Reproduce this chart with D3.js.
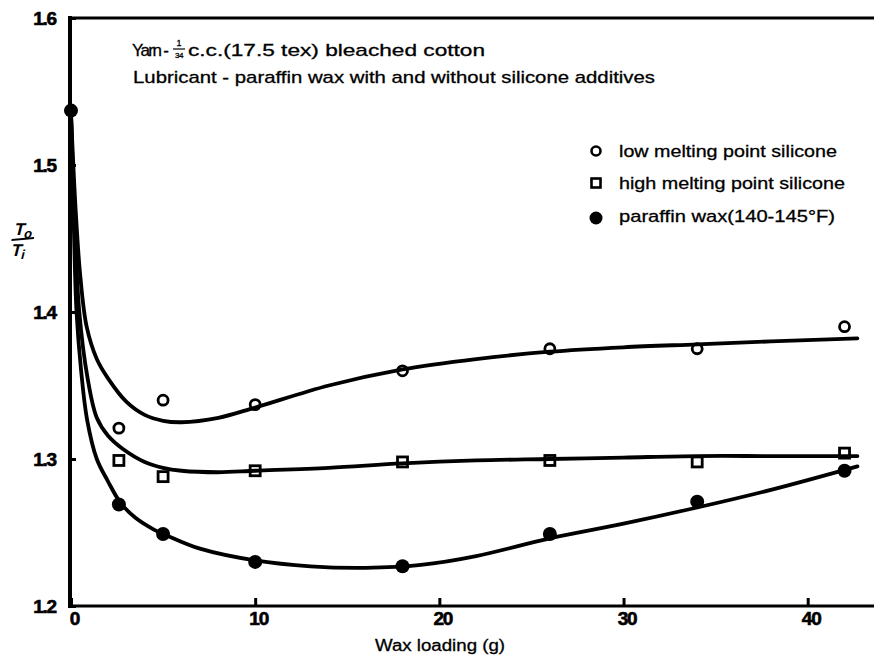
<!DOCTYPE html>
<html>
<head>
<meta charset="utf-8">
<script src="https://cdn.jsdelivr.net/npm/d3@7/dist/d3.min.js"></script>
<style>
  body { margin: 0; background: #fff; }
  svg text { font-family: "Liberation Sans", Arial, Helvetica, sans-serif; fill: #000; }
</style>
</head>
<body>
<div id="chart"></div>
<script>
"use strict"

// measured points
let loadX = [2.6, 5, 10, 18, 26, 34, 42];
let lowMelt = [1.321, 1.340, 1.337, 1.360, 1.375, 1.375, 1.390];
let highMelt = [1.299, 1.288, 1.292, 1.298, 1.299, 1.298, 1.304];
let paraffinX = [0, 2.6, 5, 10, 18, 26, 34, 42];
let paraffin = [1.537, 1.269, 1.249, 1.230, 1.227, 1.249, 1.271, 1.292];

// hand drawn fitted curves
let lowFitX = [0, 0.25, 0.5, 0.85, 1.4, 2, 3, 4, 5, 6, 8, 10, 14, 18, 22, 26, 30, 34, 38, 42.7];
let lowFitY = [1.535, 1.47, 1.425, 1.39, 1.368, 1.355, 1.339, 1.330, 1.326, 1.325, 1.328, 1.335, 1.350, 1.361, 1.368, 1.373, 1.376, 1.378, 1.380, 1.382];
let highFitX = [0, 0.2, 0.45, 0.9, 1.4, 2, 2.8, 4, 5, 6, 8, 10, 14, 18, 22, 26, 30, 34, 38, 42.7];
let highFitY = [1.535, 1.46, 1.40, 1.355, 1.328, 1.316, 1.307, 1.298, 1.294, 1.292, 1.291, 1.292, 1.294, 1.297, 1.299, 1.300, 1.301, 1.302, 1.302, 1.302];
let parFitX = [0, 0.15, 0.3, 0.55, 0.87, 1.4, 2, 2.7, 3.5, 4.5, 5.2, 7, 10, 13, 16, 19, 22, 26, 30, 34, 38, 42.7];
let parFitY = [1.535, 1.46, 1.40, 1.36, 1.327, 1.300, 1.285, 1.270, 1.260, 1.252, 1.248, 1.239, 1.231, 1.227, 1.226, 1.228, 1.234, 1.246, 1.256, 1.267, 1.279, 1.295];

let xTicks = [0, 10, 20, 30, 40];
let yTicks = [1.2, 1.3, 1.4, 1.5, 1.6];

let legendLabels = ["low melting point silicone", "high melting point silicone", "paraffin wax(140-145\u00B0F)"];
let legendWidths = [218, 226, 216];

let drawingWidth = 874;
let drawingHeight = 661;

let x = d3.scaleLinear().domain([0, 43.6]).range([71, 874]);
let y = d3.scaleLinear().domain([1.2, 1.6]).range([606, 18]);

let drawing = d3.select("#chart")
    .append("svg")
    .attr("width", drawingWidth)
    .attr("height", drawingHeight);

drawing.append("rect")
    .attr("width", drawingWidth)
    .attr("height", drawingHeight)
    .attr("fill", "white");

// axes
let yAxis = drawing.append("g")
    .attr("transform", "translate(70,0)")
    .call(d3.axisLeft(y).tickValues(yTicks).tickFormat(d3.format(".1f"))
        .tickSizeInner(-6).tickSizeOuter(0).tickPadding(14));

let xAxis = drawing.append("g")
    .attr("transform", "translate(0," + y(1.2) + ")")
    .call(d3.axisBottom(x).tickValues(xTicks).tickFormat(d3.format("d"))
        .tickSizeInner(-8).tickSizeOuter(0).tickPadding(6));

drawing.selectAll(".domain").remove();
drawing.selectAll(".tick line").attr("stroke", "black").attr("stroke-width", 3);
drawing.selectAll(".tick text")
    .style("font-size", "19px")
    .style("font-weight", "bold")
    .style("letter-spacing", "-1.2px")
    .attr("stroke", "black")
    .attr("stroke-width", 0.6);
xAxis.selectAll(".tick text").attr("dx", 3);

// frame lines
drawing.append("line")
    .attr("x1", 70).attr("x2", 70)
    .attr("y1", y(1.6) - 2).attr("y2", y(1.2) + 2)
    .attr("stroke", "black").attr("stroke-width", 4);
drawing.append("line")
    .attr("x1", 68).attr("x2", drawingWidth)
    .attr("y1", y(1.6)).attr("y2", y(1.6))
    .attr("stroke", "black").attr("stroke-width", 3);
drawing.append("line")
    .attr("x1", 68).attr("x2", drawingWidth)
    .attr("y1", y(1.2)).attr("y2", y(1.2))
    .attr("stroke", "black").attr("stroke-width", 3);

// markers
drawing.selectAll(".lowPt")
    .data(loadX)
    .enter().append("circle")
    .attr("cx", (d) => x(d))
    .attr("cy", (d, i) => y(lowMelt[i]))
    .attr("r", 5)
    .attr("fill", "white")
    .attr("stroke", "black")
    .attr("stroke-width", 2.8);

drawing.selectAll(".highPt")
    .data(loadX)
    .enter().append("rect")
    .attr("x", (d) => x(d) - 5)
    .attr("y", (d, i) => y(highMelt[i]) - 5)
    .attr("width", 10)
    .attr("height", 10)
    .attr("fill", "white")
    .attr("stroke", "black")
    .attr("stroke-width", 2.8);

drawing.selectAll(".parPt")
    .data(paraffinX)
    .enter().append("circle")
    .attr("cx", (d) => x(d))
    .attr("cy", (d, i) => y(paraffin[i]))
    .attr("r", 7)
    .attr("fill", "black");

// fitted curves
let curve = d3.line()
    .x((d) => x(d[0]))
    .y((d) => y(d[1]))
    .curve(d3.curveCatmullRom.alpha(0.5));

let fits = [[lowFitX, lowFitY], [highFitX, highFitY], [parFitX, parFitY]];
fits.forEach(function(f) {
    drawing.append("path")
        .attr("d", curve(d3.zip(f[0], f[1])))
        .attr("fill", "none")
        .attr("stroke", "black")
        .attr("stroke-width", 3.8)
        .attr("stroke-linecap", "round");
});

// title text
let titleSize = 17;
drawing.append("text")
    .attr("x", 132).attr("y", 56)
    .style("font-size", titleSize + "px")
    .style("letter-spacing", "-1.6px")
    .text("Yarn -");
drawing.append("text")
    .attr("x", 179).attr("y", 46)
    .attr("text-anchor", "middle")
    .style("font-size", "9px")
    .text("1");
drawing.append("line")
    .attr("x1", 173).attr("x2", 185)
    .attr("y1", 49).attr("y2", 49)
    .attr("stroke", "black").attr("stroke-width", 1.2);
drawing.append("text")
    .attr("x", 179).attr("y", 58)
    .attr("text-anchor", "middle")
    .style("font-size", "8px")
    .style("letter-spacing", "-0.5px")
    .text("34");
drawing.append("text")
    .attr("x", 188).attr("y", 56)
    .style("font-size", titleSize + "px")
    .attr("textLength", 297).attr("lengthAdjust", "spacingAndGlyphs")
    .text("c.c.(17.5 tex) bleached cotton");
drawing.append("text")
    .attr("x", 133).attr("y", 83)
    .style("font-size", titleSize + "px")
    .attr("textLength", 522).attr("lengthAdjust", "spacingAndGlyphs")
    .text("Lubricant - paraffin wax with and without silicone additives");

drawing.selectAll("text").filter(function() { return !this.closest(".tick"); })
    .attr("stroke", "black").attr("stroke-width", 0.3);

// legend
let legendX = 596;
let legendY = [151, 183, 216];

drawing.append("circle")
    .attr("cx", legendX).attr("cy", legendY[0])
    .attr("r", 4.5)
    .attr("fill", "white").attr("stroke", "black").attr("stroke-width", 2.6);
drawing.append("rect")
    .attr("x", legendX - 4.5).attr("y", legendY[1] - 4.5)
    .attr("width", 9).attr("height", 9)
    .attr("fill", "white").attr("stroke", "black").attr("stroke-width", 2.6);
drawing.append("circle")
    .attr("cx", legendX).attr("cy", legendY[2] + 2)
    .attr("r", 6.5)
    .attr("fill", "black");

drawing.selectAll(".legendText")
    .data(legendLabels)
    .enter().append("text")
    .attr("x", 619)
    .attr("y", (d, i) => legendY[i] + 6)
    .style("font-size", "17px")
    .attr("stroke", "black").attr("stroke-width", 0.3)
    .attr("textLength", (d, i) => legendWidths[i])
    .attr("lengthAdjust", "spacingAndGlyphs")
    .text((d) => d);

// axis titles
drawing.append("text")
    .attr("x", 440).attr("y", 651)
    .attr("text-anchor", "middle")
    .style("font-size", "16px")
    .attr("stroke", "black").attr("stroke-width", 0.3)
    .attr("textLength", 130).attr("lengthAdjust", "spacingAndGlyphs")
    .text("Wax loading (g)");

let yLabel = drawing.append("g")
    .attr("transform", "translate(21,242) skewX(-14)");
yLabel.append("text")
    .attr("x", 0).attr("y", -7)
    .attr("text-anchor", "middle")
    .style("font-size", "17px")
    .style("font-weight", "bold")
    .html("T<tspan dy='3' font-size='13'>o</tspan>");
yLabel.append("line")
    .attr("x1", -10).attr("x2", 12)
    .attr("y1", -2).attr("y2", -4)
    .attr("stroke", "black").attr("stroke-width", 2.2);
yLabel.append("text")
    .attr("x", 0).attr("y", 14)
    .attr("text-anchor", "middle")
    .style("font-size", "17px")
    .style("font-weight", "bold")
    .html("T<tspan dy='3' font-size='13'>i</tspan>");
</script>
</body>
</html>
